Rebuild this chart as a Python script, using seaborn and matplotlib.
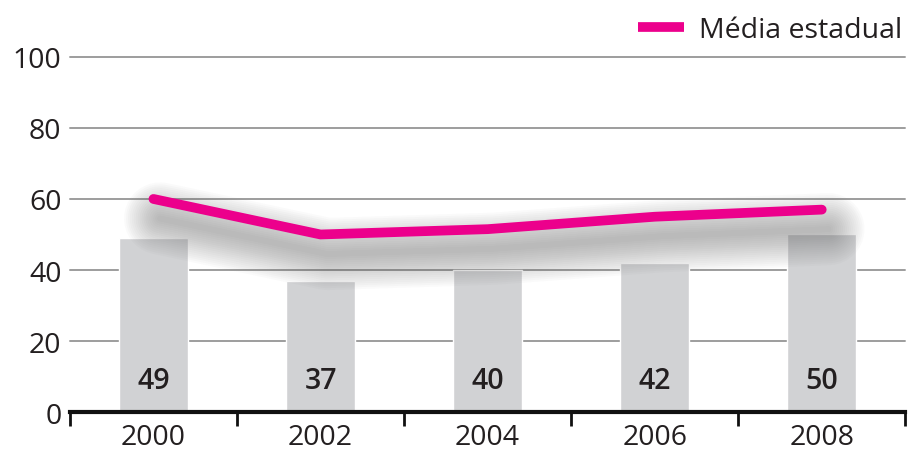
import matplotlib
matplotlib.use('Agg')
import matplotlib.pyplot as plt
import seaborn as sns
import pandas as pd
import numpy as np

anos = ['2000', '2002', '2004', '2006', '2008']
escola = [49, 37, 40, 42, 50]
media_estadual = [60, 50, 51.5, 55, 57]

df = pd.DataFrame({'ano': anos, 'escola': escola, 'media': media_estadual})

sns.set_style('white')
plt.rcParams['font.family'] = ['Open Sans', 'DejaVu Sans']

fig = plt.figure(figsize=(9.08, 4.52), dpi=100)
ax = fig.add_axes([0.077, 0.086, 0.92, 0.786])

sns.barplot(data=df, x='ano', y='escola', color='#d1d2d4', width=0.41,
            saturation=1, ax=ax, zorder=2)

# sombra difusa da linha (varias camadas finas)
xs = np.arange(len(anos))
sombra = df['media'] - 5.5
for lw in np.linspace(4, 52, 18):
    ax.plot(xs + 0.04, sombra, color='#5f5f5f', lw=lw, alpha=0.026,
            solid_capstyle='round', solid_joinstyle='round', zorder=3)

sns.lineplot(data=df, x='ano', y='media', color='#ec008c', lw=7, ax=ax,
             zorder=4, label='Média estadual', sort=False)
for l in ax.get_lines()[-1:]:
    l.set_solid_capstyle('round')
    l.set_solid_joinstyle('round')

for i, v in enumerate(escola):
    ax.text(i, 9, str(v), ha='center', va='center', fontsize=20.5,
            fontweight='semibold', color='#231f20', zorder=5)

ax.set_ylim(0, 100)
ax.set_xlim(-0.5, len(anos) - 0.5)
ax.set_yticks([0, 20, 40, 60, 80, 100])
for y in [20, 40, 60, 80, 100]:
    ax.axhline(y, color='#9d9d9d', lw=1.4, zorder=1, clip_on=False)

for s in ['top', 'right', 'left']:
    ax.spines[s].set_visible(False)
ax.spines['bottom'].set_linewidth(3)
ax.spines['bottom'].set_color('#111111')

ax.set_xticks(xs)
ax.set_xticks(np.arange(-0.5, len(anos)), minor=True)
ax.tick_params(axis='x', which='major', bottom=False, length=0, pad=8,
               labelsize=20.5, labelcolor='#231f20')
ax.tick_params(axis='x', which='minor', bottom=True, length=10, width=2,
               color='#111111', direction='out')
ax.tick_params(axis='y', length=0, pad=6, labelsize=20.5, labelcolor='#231f20')
ax.set_xlabel('')
ax.set_ylabel('')

leg = ax.legend(loc='lower right', bbox_to_anchor=(1.012, 1.0), frameon=False,
                fontsize=20.5, handlelength=1.6, handletextpad=0.55,
                borderaxespad=0.05, labelcolor='#231f20')
for h in leg.get_lines():
    h.set_linewidth(7)
    h.set_solid_capstyle('butt')

fig.savefig('out.png', dpi=100)
